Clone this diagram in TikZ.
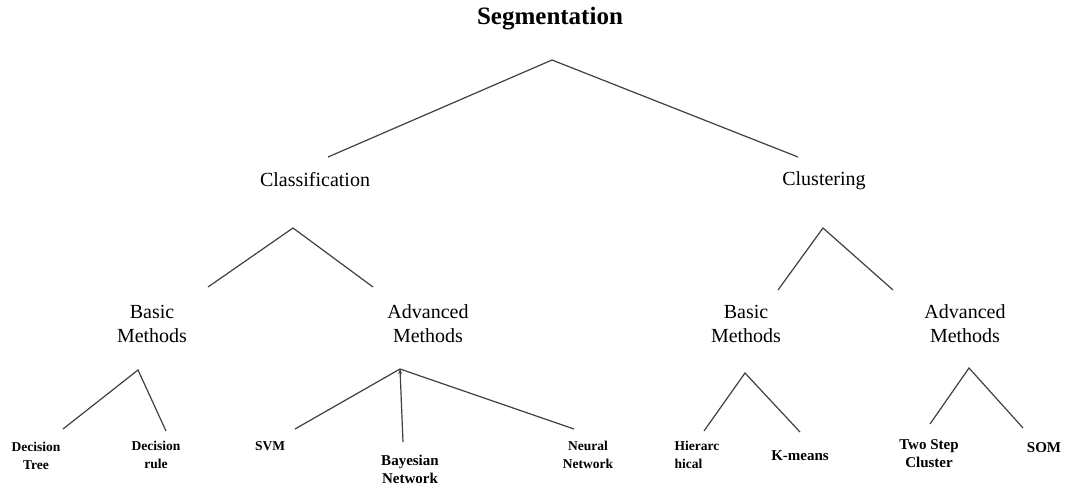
\documentclass[tikz,border=0pt]{standalone}
\usepackage{fontspec}
\setmainfont{Liberation Serif}
\usetikzlibrary{arrows.meta}
\begin{document}
\begin{tikzpicture}[x=1pt,y=-1pt,
  edge/.style={draw=black!75, line width=1.2pt},
  top/.style={font=\fontsize{25}{29}\selectfont\bfseries, inner sep=0pt},
  mid/.style={font=\fontsize{20}{24}\selectfont, inner sep=0pt, align=center},
  leaf/.style={font=\fontsize{13.5}{17.5}\selectfont\bfseries, inner sep=0pt, align=center},
  bigleaf/.style={font=\fontsize{15}{18}\selectfont\bfseries, inner sep=0pt, align=center}]
\path[use as bounding box, fill=white] (0,0) rectangle (1066,492);

% texts
\node[top] (seg) at (550,19) {Segmentation};
\node[mid] (cla) at (315,180) {Classification};
\node[mid] (clu) at (824,181) {Clustering};
\node[mid] (cb) at (152,324) {Basic\\Methods};
\node[mid] (ca) at (428,324) {Advanced\\Methods};
\node[mid] (kb) at (746,324) {Basic\\Methods};
\node[mid] (ka) at (965,324) {Advanced\\Methods};
\node[leaf] (dt) at (36,456) {Decision\\Tree};
\node[leaf] (dr) at (156,455) {Decision\\rule};
\node[leaf] (svm) at (270,446) {SVM};
\node[bigleaf] (bn) at (410,469) {Bayesian\\Network};
\node[leaf] (nn) at (588,455) {Neural\\Network};
\node[leaf, align=left] (hi) at (697,455) {Hierarc\\hical};
\node[bigleaf] (km) at (800,456) {K-means};
\node[bigleaf] (ts) at (929,454) {Two Step\\Cluster};
\node[bigleaf] (som) at (1044,448) {SOM};

% apex and end coordinates
\coordinate (segA) at (552,60);
\coordinate (claT) at (328,157);
\coordinate (cluT) at (798,157);
\coordinate (claA) at (293,228);
\coordinate (cbT) at (208,287);
\coordinate (caT) at (373,287);
\coordinate (cluA) at (823,228);
\coordinate (kbT) at (778,290);
\coordinate (kaT) at (893,290);
\coordinate (cbA) at (138,370);
\coordinate (dtT) at (63,429);
\coordinate (drT) at (166,431);
\coordinate (caA) at (400,369);
\coordinate (svmT) at (295,429);
\coordinate (bnT) at (403,442);
\coordinate (nnT) at (574,429);
\coordinate (kbA) at (745,373);
\coordinate (hiT) at (704,431);
\coordinate (kmT) at (800,432);
\coordinate (kaA) at (969,368);
\coordinate (tsT) at (930,424);
\coordinate (somT) at (1023,428);

% connectors
\draw[edge] (claT) -- (segA) -- (cluT);
\draw[edge] (cbT) -- (claA) -- (caT);
\draw[edge] (kbT) -- (cluA) -- (kaT);
\draw[edge] (dtT) -- (cbA) -- (drT);
\draw[edge] (svmT) -- (caA) -- (nnT);
\draw[edge, -{Stealth[length=5pt,width=4pt]}] (bnT) -- (caA);
\draw[edge] (hiT) -- (kbA) -- (kmT);
\draw[edge] (tsT) -- (kaA) -- (somT);
\end{tikzpicture}
\end{document}
